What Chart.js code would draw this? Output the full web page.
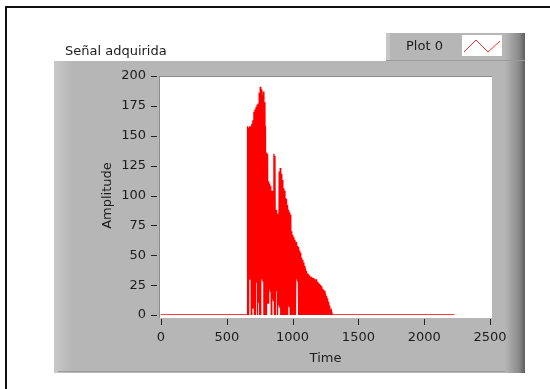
<!DOCTYPE html>
<html>
<head>
<meta charset="utf-8">
<script src="https://cdn.jsdelivr.net/npm/chart.js@4.4.1/dist/chart.umd.min.js"></script>
<style>
  html, body { margin: 0; padding: 0; background: #fff; }
  canvas { display: block; }
</style>
</head>
<body>
<canvas id="grafico" width="550" height="389"></canvas>
<script>
// Gráfico tipo LabVIEW: señal adquirida (pulso entre t≈658 y t≈1300)

const titulo = 'Señal adquirida';
const nombreTraza = 'Plot 0';
const tituloX = 'Time';
const tituloY = 'Amplitude';
const ticksX = [0, 500, 1000, 1500, 2000, 2500];
const ticksY = [0, 25, 50, 75, 100, 125, 150, 175, 200];

// la señal está en 0 fuera del pulso
const tiempoInicio = 0;
const tiempoFin = 2230;

// pulso: un par (máximo, mínimo) cada 8 unidades de tiempo desde t = 658
const inicioPulso = 658;
const pasoPulso = 8;
const picoMax = [
  158, 157, 158, 158, 160, 163, 170, 172, 174, 176,
  177, 186, 191, 189, 184, 187, 178, 158, 136, 135,
  112, 110, 108, 104, 104, 135, 133, 88, 85, 84,
  120, 123, 118, 113, 106, 104, 98, 97, 92, 88,
  86, 84, 70, 67, 65, 63, 61, 58, 57, 54,
  52, 48, 46, 44, 41, 39, 37, 35, 34, 33,
  32, 32, 31, 31, 30, 30, 28, 27, 26, 25,
  24, 22, 21, 20, 18, 16, 14, 11, 8, 5, 2
];
const picoMin = [
  0, 30, 31, 0, 6, 6, 0, 0, 27, 0,
  10, 0, 0, 30, 28, 0, 0, 0, 10, 10,
  22, 20, 0, 14, 12, 0, 0, 20, 0, 8,
  6, 0, 0, 0, 0, 0, 0, 0, 8, 7,
  0, 0, 0, 0, 0, 0, 30, 28, 0, 0,
  0, 0, 0, 0, 0, 0, 0, 0, 0, 0,
  0, 0, 0, 0, 0, 0, 0, 0, 0, 0,
  0, 0, 0, 0, 0, 0, 0, 0, 0, 0, 0
];

// armar la serie (x, y) para Chart.js
const puntos = [{ x: tiempoInicio, y: 0 }, { x: inicioPulso - 1, y: 0 }];
picoMax.forEach((v, i) => {
  const t = inicioPulso + i * pasoPulso;
  puntos.push({ x: t, y: v });
  puntos.push({ x: t + pasoPulso / 2, y: picoMin[i] });
});
puntos.push({ x: tiempoFin, y: 0 });

const FUENTE = 'DejaVu Sans';
const TEXTO = '#1c1c1c';

// fondo gris del control, leyenda y título
const marcoLabVIEW = {
  id: 'marcoLabVIEW',
  beforeDraw(chart) {
    const c = chart.ctx;
    const a = chart.chartArea;
    c.save();
    c.fillStyle = '#fff';
    c.fillRect(0, 0, chart.width, chart.height);

    // marco negro exterior
    c.fillStyle = '#111';
    c.fillRect(5, 6, 2, 383);
    c.fillRect(5, 6, 545, 2);

    // caja de la leyenda
    c.fillStyle = '#b6b6b6';
    c.fillRect(386, 33, 139, 29);
    c.fillStyle = '#c6c6c6';
    c.fillRect(386, 33, 4, 29);
    let g = c.createLinearGradient(505, 0, 525, 0);
    g.addColorStop(0, '#b6b6b6');
    g.addColorStop(0.7, '#8a8a8a');
    g.addColorStop(1, '#5e5e5e');
    c.fillStyle = g;
    c.fillRect(505, 33, 20, 29);

    // panel principal
    c.fillStyle = '#b6b6b6';
    c.fillRect(54, 61, 471, 312);
    g = c.createLinearGradient(54, 0, 72, 0);
    g.addColorStop(0, '#c9c9c9');
    g.addColorStop(1, '#b6b6b6');
    c.fillStyle = g;
    c.fillRect(54, 61, 18, 312);
    g = c.createLinearGradient(505, 0, 525, 0);
    g.addColorStop(0, '#b6b6b6');
    g.addColorStop(0.7, '#8a8a8a');
    g.addColorStop(1, '#5e5e5e');
    c.fillStyle = g;
    c.fillRect(505, 61, 20, 312);
    c.fillStyle = '#9a9a9a';
    c.fillRect(386, 60, 139, 1);
    c.fillRect(58, 371, 447, 1);

    // área de trazado
    c.fillStyle = '#fff';
    c.fillRect(a.left - 2, a.top, a.right - a.left + 4, a.bottom - a.top + 3);
    c.fillStyle = '#8c8c8c';
    c.fillRect(a.left - 2, a.top, a.right - a.left + 4, 1);
    c.fillRect(a.left - 2, a.top, 1, a.bottom - a.top + 3);

    // título
    c.fillStyle = TEXTO;
    c.font = `13px "${FUENTE}"`;
    c.textBaseline = 'middle';
    c.textAlign = 'left';
    c.fillText(titulo, 65, 52);

    // leyenda
    c.fillText(nombreTraza, 406, 47);
    c.fillStyle = '#fff';
    c.fillRect(462, 35, 40, 21);
    c.strokeStyle = '#ff3030';
    c.lineWidth = 1;
    c.beginPath();
    c.moveTo(464, 52);
    c.lineTo(476, 40);
    c.lineTo(488, 52);
    c.lineTo(500, 41);
    c.stroke();
    c.restore();
  },
  // marcas de división separadas del área de trazado, en las posiciones de las escalas
  afterDraw(chart) {
    const c = chart.ctx;
    const a = chart.chartArea;
    const sx = chart.scales.x;
    const sy = chart.scales.y;
    c.save();
    c.fillStyle = '#222';
    sx.ticks.forEach(t => {
      const px = Math.round(sx.getPixelForValue(t.value));
      c.fillRect(px, a.bottom + 4, 1, 6);
    });
    sy.ticks.forEach(t => {
      const py = Math.round(sy.getPixelForValue(t.value));
      c.fillRect(a.left - 10, py, 6, 1);
    });
    c.restore();
  }
};

const ejeTicks = {
  color: TEXTO,
  font: { family: FUENTE, size: 13 },
  padding: 5,
  maxRotation: 0,
  callback: v => String(v)
};

new Chart(document.getElementById('grafico'), {
  type: 'line',
  data: {
    datasets: [{
      label: nombreTraza,
      data: puntos,
      borderColor: '#ff0000',
      borderWidth: 1.3,
      pointRadius: 0,
      tension: 0,
      fill: false
    }]
  },
  options: {
    responsive: false,
    animation: false,
    devicePixelRatio: 1,
    layout: { padding: { left: 0, top: 76, right: 60, bottom: 0 } },
    plugins: {
      legend: { display: false },
      tooltip: { enabled: false }
    },
    scales: {
      x: {
        type: 'linear',
        min: 0,
        max: 2500,
        afterBuildTicks: s => { s.ticks = ticksX.map(v => ({ value: v })); },
        afterFit: s => { s.height = 74; },
        border: { display: false },
        grid: { drawOnChartArea: false, tickLength: 10, tickColor: 'rgba(0,0,0,0)' },
        ticks: ejeTicks,
        title: {
          display: true,
          text: tituloX,
          color: TEXTO,
          font: { family: FUENTE, size: 13 },
          padding: 23
        }
      },
      y: {
        min: 0,
        max: 200,
        afterBuildTicks: s => { s.ticks = ticksY.map(v => ({ value: v })); },
        afterFit: s => { s.width = 161; },
        border: { display: false },
        grid: { drawOnChartArea: false, tickLength: 10, tickColor: 'rgba(0,0,0,0)' },
        ticks: ejeTicks,
        title: {
          display: true,
          text: tituloY,
          color: TEXTO,
          font: { family: FUENTE, size: 13 },
          padding: 100
        }
      }
    }
  },
  plugins: [marcoLabVIEW]
});
</script>
</body>
</html>
